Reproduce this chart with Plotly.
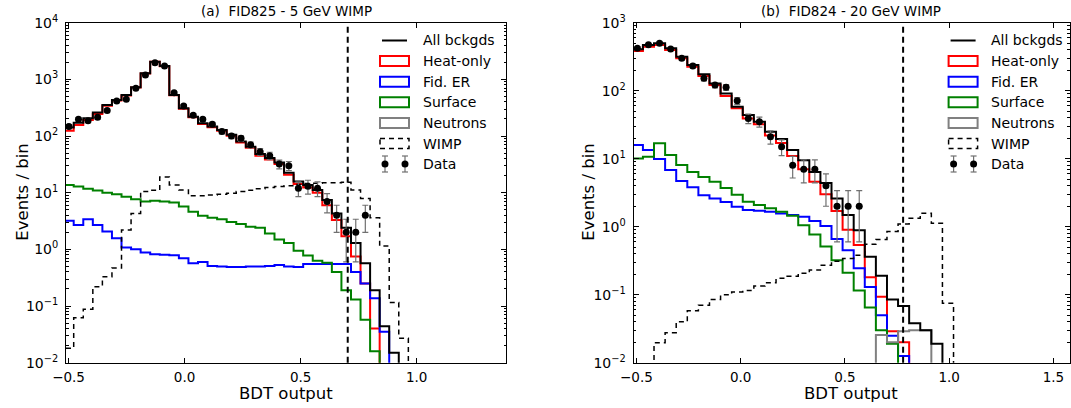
import plotly.graph_objects as go

# ---------------- Panel (a): FID825 - 5 GeV WIMP ----------------
A_BIN_START = -0.519
A_BIN_WIDTH = 0.0412
a_all = [141, 172, 206, 259, 353, 433, 531, 725, 1280, 2050, 1720, 531, 309, 220, 168, 147, 128,
         105, 80, 65, 48, 41, 34, 22.6, 15.7, 13.7, 11.2, 7.4, 4.3, 2.4, 1.29, 0.57, 0.19, 0.044, 0.015]
a_heat = [124, 156, 191, 245, 341, 422, 521, 716, 1272, 2042, 1712, 523, 303, 215, 163, 143, 124,
          101, 77, 62, 45, 38.6, 32, 20.8, 14.2, 12.4, 10, 6.0, 3.3, 1.7, 0.75, 0.25, 0.04]
a_fider = [3.2, 2.7, 3.4, 2.7, 2.06, 1.57, 1.08, 1.0, 0.88, 0.82, 0.80, 0.79, 0.70, 0.57, 0.60, 0.51,
           0.50, 0.49, 0.49, 0.50, 0.50, 0.51, 0.53, 0.50, 0.49, 0.55, 0.55, 0.55, 0.55, 0.55, 0.40,
           0.25, 0.137, 0.035]
a_surface = [13.7, 12.8, 11.7, 10.9, 10, 9.4, 8.5, 7.7, 7.0, 7.2, 7.0, 6.7, 5.7, 4.6, 3.9, 3.6, 3.4,
             3.05, 2.8, 2.5, 2.4, 1.9, 1.5, 1.29, 0.95, 0.78, 0.63, 0.58, 0.4, 0.19, 0.13, 0.057, 0.016]
a_neutrons = []
a_wimp = [0.018, 0.062, 0.088, 0.22, 0.33, 0.47, 2.2, 4.3, 10.5, 11, 19, 13.7, 11.2, 8.8, 8.8, 9.1,
          9.4, 9.8, 10.5, 11, 11.7, 12.3, 12.8, 13.3, 14, 14.5, 14.7, 15, 15, 15.3, 11.2, 7.9, 3.6,
          1.15, 0.115, 0.027]
a_data = [147, 198, 187, 214, 281, 416, 446, 697, 1196, 1972, 1722, 582, 340, 233, 198, 161, 120,
          100, 91, 70, 53, 45, 32, 30, 12, 13, 12, 7, 4, 2, 2, 4]
a_err = [12.1, 14.1, 13.7, 14.6, 16.8, 20.4, 21.1, 26.4, 34.6, 44.4, 41.5, 24.1, 18.4, 15.3, 14.1,
         12.7, 11.0, 10.0, 9.5, 8.4, 7.3, 6.7, 5.7, 5.5, 3.5, 3.6, 3.5, 2.6, 2.0, 1.4, 1.4, 2.0]
A_CUT = 0.703
A_TITLE = "(a)  FID825 - 5 GeV WIMP"

# ---------------- Panel (b): FID824 - 20 GeV WIMP ----------------
B_BIN_START = -0.522
B_BIN_WIDTH = 0.0532
b_all = [406, 470, 497, 420, 316, 239, 174, 128, 91, 58, 44, 35, 25, 19.5, 13.4, 9.5, 6.4, 4.4, 2.6,
         1.49, 0.89, 0.36, 0.19, 0.085, 0.068, 0.038, 0.030, 0.019]
b_heat = [384, 444, 470, 398, 299, 225, 164, 121, 83.5, 55, 39, 32, 22, 17, 11, 7.0, 4.6, 3.0, 1.7,
          0.9, 0.54, 0.18, 0.093, 0.029, 0.02]
b_fider = [15.9, 13.4, 9.9, 6.8, 4.7, 3.8, 2.9, 2.6, 2.3, 1.97, 1.76, 1.72, 1.66, 1.57, 1.49, 1.4,
           1.21, 1.02, 0.66, 0.45, 0.245, 0.13, 0.05, 0.025, 0.0125]
b_surface = [10.1, 10.7, 16.9, 11.3, 8.1, 6.4, 5.4, 4.6, 3.7, 2.95, 2.33, 2.08, 1.86, 1.66, 1.45,
             1.05, 0.77, 0.51, 0.32, 0.21, 0.115, 0.065, 0.03, 0.019]
b_neutrons = [0] * 22 + [0.0255, 0.02, 0.029, 0.030, 0.030]
b_wimp = [0, 0, 0.0197, 0.0276, 0.040, 0.058, 0.07, 0.085, 0.10, 0.11, 0.115, 0.134, 0.15, 0.174,
          0.186, 0.206, 0.23, 0.27, 0.31, 0.34, 0.38, 0.55, 0.65, 0.85, 1.1, 1.33, 1.58, 1.12, 0.075]
b_data = [421, 475, 498, 410, 299, 231, 152, 121, 112, 71, 39, 35, 21, 15, 8, 7, 7, 4, 2, 2, 2]
b_err = [20.5, 21.8, 22.3, 20.2, 17.3, 15.2, 12.3, 11.0, 10.6, 8.4, 6.2, 5.9, 4.6, 3.9, 2.8, 2.6,
         2.6, 2.0, 1.4, 1.4, 1.4]
B_CUT = 0.779
B_TITLE = "(b)  FID824 - 20 GeV WIMP"

LEGEND_LABELS = ["All bckgds", "Heat-only", "Fid. ER", "Surface", "Neutrons", "WIMP", "Data"]

# ---------------- styling ----------------
W, H = 1071, 408
FONT = "DejaVu Sans"
FLOOR = 1e-6
C_RED, C_BLUE, C_GREEN, C_GREY = "#ff0000", "#0000ff", "#008000", "#808080"
C_ERR = "#707070"


def px(x):
    return x / W


def py(y):
    return 1 - y / H


def step_xy(start, width, vals):
    n = len(vals)
    edges = [start + width * i for i in range(n + 1)]
    xs = [edges[0]] + edges
    ys = [FLOOR] + [v if v > 0 else FLOOR for v in vals] + [FLOOR]
    return xs, ys


def centers(start, width, n):
    return [start + width * (i + 0.5) for i in range(n)]


fig = go.Figure()


def add_panel(xa, ya, start, width, heat, fider, surface, neutrons, allb, wimp, data, err):
    for vals, col in [(heat, C_RED), (fider, C_BLUE), (surface, C_GREEN), (neutrons, C_GREY)]:
        if not vals:
            continue
        xs, ys = step_xy(start, width, vals)
        fig.add_trace(go.Scatter(x=xs, y=ys, mode="lines", line=dict(color=col, width=2, shape="hv"),
                                 xaxis=xa, yaxis=ya, showlegend=False, hoverinfo="skip"))
    xs, ys = step_xy(start, width, allb)
    fig.add_trace(go.Scatter(x=xs, y=ys, mode="lines", line=dict(color="black", width=2, shape="hv"),
                             xaxis=xa, yaxis=ya, showlegend=False, hoverinfo="skip"))
    xs, ys = step_xy(start, width, wimp)
    fig.add_trace(go.Scatter(x=xs, y=ys, mode="lines",
                             line=dict(color="black", width=1.5, shape="hv", dash="5px,4px"),
                             xaxis=xa, yaxis=ya, showlegend=False, hoverinfo="skip"))
    fig.add_trace(go.Scatter(x=centers(start, width, len(data)), y=data, mode="markers",
                             marker=dict(color="black", size=7),
                             error_y=dict(type="data", array=err, color=C_ERR, thickness=1.2, width=3),
                             xaxis=xa, yaxis=ya, showlegend=False, hoverinfo="skip"))


add_panel("x", "y", A_BIN_START, A_BIN_WIDTH, a_heat, a_fider, a_surface, a_neutrons,
          a_all, a_wimp, a_data, a_err)
add_panel("x2", "y2", B_BIN_START, B_BIN_WIDTH, b_heat, b_fider, b_surface, b_neutrons,
          b_all, b_wimp, b_data, b_err)

# frames
Y_DOM = [py(362.7), py(22.7)]
A_DOM = [px(66), px(506)]
B_DOM = [px(633.5), px(1069.5)]


def sup(e):
    s = str(e).replace("-", "\u2212")
    return "10<sup>%s</sup>" % s


def yaxis(lo, hi, anchor):
    tv = [10.0 ** e for e in range(lo, hi + 1)]
    minor = [m * 10.0 ** e for e in range(lo, hi) for m in range(2, 10)]
    return dict(type="log", range=[lo, hi], domain=Y_DOM, anchor=anchor, automargin=False,
                tickvals=tv, ticktext=[sup(e) for e in range(lo, hi + 1)],
                ticks="inside", ticklen=5, tickwidth=1, tickcolor="black",
                minor=dict(tickvals=minor, ticks="inside", ticklen=2.5, tickcolor="black", showgrid=False),
                showline=True, linecolor="black", linewidth=1, mirror="ticks",
                showgrid=False, zeroline=False, ticklabelstandoff=4,
                tickfont=dict(family=FONT, size=14, color="black"))


def xaxis(rng, dom, vals, anchor):
    return dict(range=rng, domain=dom, anchor=anchor, tickvals=vals, automargin=False,
                ticktext=[("%.1f" % v).replace("-", "\u2212") for v in vals],
                ticks="inside", ticklen=5, tickwidth=1, tickcolor="black",
                showline=True, linecolor="black", linewidth=1, mirror="ticks",
                showgrid=False, zeroline=False, ticklabelstandoff=2,
                tickfont=dict(family=FONT, size=13.5, color="black"))


fig.update_layout(
    template="none",
    width=W, height=H, margin=dict(l=0, r=0, t=0, b=0, pad=0, autoexpand=False),
    paper_bgcolor="white", plot_bgcolor="white", showlegend=False, hovermode=False,
    xaxis=xaxis([-0.511, 1.385], A_DOM, [-0.5, 0.0, 0.5, 1.0], "y"),
    yaxis=yaxis(-2, 4, "x"),
    xaxis2=xaxis([-0.514, 1.577], B_DOM, [-0.5, 0.0, 0.5, 1.0, 1.5], "y2"),
    yaxis2=yaxis(-2, 3, "x2"),
)

shapes = []
annots = []

# cut lines
for xr, yr, cut in [("x", "y domain", A_CUT), ("x2", "y2 domain", B_CUT)]:
    shapes.append(dict(type="line", xref=xr, yref=yr, x0=cut, x1=cut, y0=0, y1=1,
                       line=dict(color="black", width=2, dash="6px,4px")))

# titles and axis labels
for cx, title in [(286, A_TITLE), (851, B_TITLE)]:
    annots.append(dict(x=px(cx), y=py(11), xref="paper", yref="paper", text=title, showarrow=False,
                       xanchor="center", yanchor="middle", font=dict(family=FONT, size=13.5, color="black")))
    annots.append(dict(x=px(cx), y=py(393), xref="paper", yref="paper", text="BDT output", showarrow=False,
                       xanchor="center", yanchor="middle", font=dict(family=FONT, size=16.5, color="black")))
for cx in [23, 589]:
    annots.append(dict(x=px(cx), y=py(192.7), xref="paper", yref="paper", text="Events / bin",
                       showarrow=False, textangle=-90, xanchor="center", yanchor="middle",
                       font=dict(family=FONT, size=16.5, color="black")))

# legends (manual, matplotlib style)
ROWS = [40.5, 61, 81.7, 102.3, 123, 143.5, 164]
for off in [0, 568.6]:
    x0, x1 = 380 + off, 409 + off
    tx = 420.5 + off
    shapes.append(dict(type="line", xref="paper", yref="paper", x0=px(x0 + 2), x1=px(x1 - 2),
                       y0=py(ROWS[0]), y1=py(ROWS[0]), line=dict(color="black", width=2)))
    for r, col in zip(ROWS[1:5], [C_RED, C_BLUE, C_GREEN, C_GREY]):
        shapes.append(dict(type="rect", xref="paper", yref="paper", x0=px(x0), x1=px(x1),
                           y0=py(r - 5), y1=py(r + 5), line=dict(color=col, width=2)))
    shapes.append(dict(type="rect", xref="paper", yref="paper", x0=px(x0), x1=px(x1),
                       y0=py(ROWS[5] - 5), y1=py(ROWS[5] + 5),
                       line=dict(color="black", width=1.5, dash="5px,4px")))
    for mx in [x0 + 5, x1 - 4]:
        shapes.append(dict(type="line", xref="paper", yref="paper", x0=px(mx), x1=px(mx),
                           y0=py(ROWS[6] - 8), y1=py(ROWS[6] + 8), line=dict(color=C_ERR, width=1.2)))
        for cy in [ROWS[6] - 8, ROWS[6] + 8]:
            shapes.append(dict(type="line", xref="paper", yref="paper", x0=px(mx - 3), x1=px(mx + 3),
                               y0=py(cy), y1=py(cy), line=dict(color=C_ERR, width=1.2)))
        shapes.append(dict(type="circle", xref="paper", yref="paper", x0=px(mx - 3.5), x1=px(mx + 3.5),
                           y0=py(ROWS[6] - 3.5), y1=py(ROWS[6] + 3.5), fillcolor="black",
                           line=dict(color="black", width=0)))
    for r, lab in zip(ROWS, LEGEND_LABELS):
        annots.append(dict(x=px(tx), y=py(r), xref="paper", yref="paper", text=lab, showarrow=False,
                           xanchor="left", yanchor="middle", font=dict(family=FONT, size=14, color="black")))

fig.update_layout(shapes=shapes, annotations=annots)
fig.write_html("out.html", config={"displayModeBar": False, "staticPlot": True},
               post_script="document.body.style.margin='0px';")
